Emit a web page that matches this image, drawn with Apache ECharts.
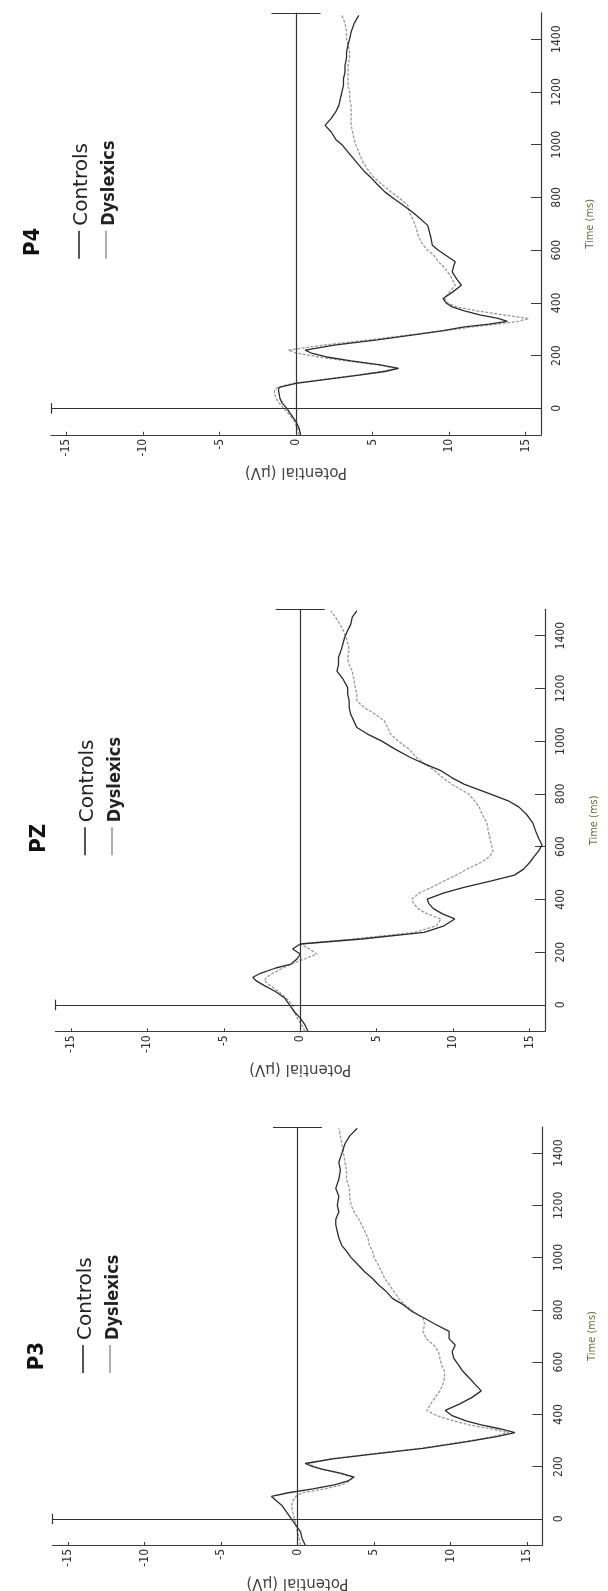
<!DOCTYPE html>
<html>
<head>
<meta charset="utf-8">
<script src="https://cdn.jsdelivr.net/npm/echarts@6/dist/echarts.min.js"></script>
<style>
html,body{margin:0;padding:0;background:#fff;}
#chart{width:608px;height:1591px;}
</style>
</head>
<body>
<div id="chart"></div>
<script>
// ---------- DATA ----------
const panelNames = ['P4', 'PZ', 'P3'];
const seriesNames = ['Controls', 'Dyslexics'];
const potentialTicks = [-15, -10, -5, 0, 5, 10, 15];
const timeTicks = [0, 200, 400, 600, 800, 1000, 1200, 1400];
const potentialRange = [-16, 16];
const timeRange = [-100, 1500];

// P3
const p3Time = [-100,-75,-50,-25,0,25,50,70,86,100,115,130,145,160,175,190,200,212,230,250,270,295,315,330,345,360,375,395,415,440,465,490,515,540,565,590,615,640,665,690,718,745,768,793,820,844,870,895,920,945,970,1000,1025,1046,1075,1100,1125,1147,1175,1200,1235,1265,1300,1335,1365,1400,1436,1465,1495];
const p3Controls = [0.5,0.3,0.2,-0.1,-0.4,-0.7,-1.0,-1.4,-1.7,-0.6,1.0,2.4,3.3,3.7,2.8,1.6,1.0,0.5,2.3,5.2,8.2,11.0,13.0,14.2,13.2,12.0,11.0,10.1,9.65,10.6,11.4,12.0,11.6,11.2,10.8,10.5,10.2,10.1,10.3,9.9,9.9,9.0,8.3,7.5,6.9,6.2,5.8,5.3,4.9,4.4,4.0,3.5,3.2,2.9,2.7,2.6,2.5,2.5,2.7,2.6,2.7,2.5,2.7,2.8,2.7,2.9,3.1,3.4,3.9];
const p3Dyslexics = [0.2,0.1,0.0,-0.1,-0.2,-0.3,-0.4,-0.3,-0.1,0.3,1.8,2.9,3.4,3.6,2.7,1.6,1.1,0.7,2.2,5.0,8.0,10.8,12.8,13.8,12.6,11.2,10.2,9.1,8.45,8.7,9.0,9.3,9.5,9.6,9.6,9.4,9.3,9.2,8.9,8.4,8.2,8.3,8.2,7.6,7.0,6.6,6.3,6.0,5.7,5.5,5.3,5.0,4.9,4.7,4.6,4.4,4.2,4.0,3.7,3.5,3.4,3.4,3.2,3.2,3.1,3.0,2.9,2.8,2.7];

// PZ
const pzTime = [-100,-75,-50,-25,0,25,50,75,92,105,120,140,155,175,193,212,231,250,275,300,326,345,365,385,401,425,446,470,492,515,540,563,585,607,630,658,690,722,750,774,800,837,862,888,912,938,970,1001,1027,1052,1077,1102,1127,1153,1178,1203,1235,1266,1290,1317,1350,1393,1420,1443,1470,1494];
const pzControls = [0.5,0.3,0.0,-0.4,-0.7,-1.0,-1.6,-2.4,-2.9,-3.1,-2.6,-1.6,-0.6,-0.2,0.0,-0.5,0.0,4.0,8.1,9.4,10.1,9.3,8.7,8.4,8.3,9.4,10.7,12.5,14.0,14.6,15.0,15.3,15.6,15.8,15.6,15.4,15.2,14.8,14.3,13.6,12.4,10.7,9.9,9.2,8.2,7.2,6.2,5.3,4.4,3.7,3.5,3.3,3.2,3.2,3.1,3.1,2.8,2.4,2.5,2.5,2.7,2.9,3.1,3.3,3.4,3.7];
const pzDyslexics = [0.3,0.1,-0.2,-0.4,-0.5,-0.9,-1.4,-2.0,-2.35,-2.2,-1.8,-1.1,-0.6,0.3,1.1,0.6,0.0,3.5,7.5,8.9,9.2,8.3,7.7,7.4,7.3,7.8,8.6,9.4,10.2,10.9,11.8,12.4,12.6,12.5,12.4,12.3,12.2,11.9,11.7,11.4,11.0,9.9,9.3,8.8,8.2,7.6,7.1,6.4,5.9,5.7,5.5,4.9,4.2,3.7,3.7,3.6,3.5,3.4,3.2,3.1,3.2,3.0,2.8,2.6,2.3,2.0];

// P4
const p4Time = [-100,-75,-50,-25,0,20,38,55,70,80,95,110,125,140,152,165,180,195,210,221,240,260,280,295,309,320,330,341,355,370,385,400,417,440,467,490,518,540,556,580,600,619,650,694,720,745,770,795,821,850,875,896,930,972,1000,1020,1048,1073,1100,1125,1149,1175,1200,1225,1250,1275,1300,1330,1351,1380,1400,1427,1460,1490];
const p4Controls = [0.3,0.2,0.0,-0.3,-0.6,-0.9,-1.05,-1.1,-1.15,-1.1,0.0,2.0,4.0,5.8,6.7,5.5,3.6,2.0,1.0,0.6,2.5,5.3,7.8,9.6,11.0,12.6,13.8,13.2,12.0,11.0,10.2,9.8,9.6,10.2,10.8,10.5,10.2,10.3,10.4,9.8,9.3,8.9,8.8,8.6,8.1,7.6,7.0,6.4,5.8,5.3,4.9,4.5,4.0,3.4,3.0,2.6,2.3,1.9,2.3,2.6,2.8,2.9,3.0,3.1,3.1,3.2,3.2,3.3,3.3,3.4,3.5,3.6,3.8,4.1];
const p4Dyslexics = [0.2,0.1,-0.1,-0.4,-0.8,-1.1,-1.3,-1.4,-1.4,-1.2,-0.2,1.8,3.8,5.6,6.6,5.4,3.3,1.5,0.0,-0.5,1.8,4.8,7.6,9.8,11.5,13.2,14.5,15.2,13.5,11.8,10.5,9.9,9.7,10.0,10.4,10.2,9.9,9.6,9.3,9.0,8.6,8.3,8.0,7.8,7.6,7.4,7.3,6.8,6.2,5.6,5.1,4.8,4.4,4.1,3.9,3.8,3.7,3.6,3.6,3.6,3.6,3.5,3.5,3.4,3.4,3.4,3.4,3.5,3.5,3.4,3.3,3.3,3.2,3.0];

const panels = [
  {name: 'P4', time: p4Time, controls: p4Controls, dyslexics: p4Dyslexics},
  {name: 'PZ', time: pzTime, controls: pzControls, dyslexics: pzDyslexics},
  {name: 'P3', time: p3Time, controls: p3Controls, dyslexics: p3Dyslexics}
];

// ---------- LAYOUT ----------
const gridBoxes = [
  {left: 51,   top: 12.8,  width: 490, height: 422},
  {left: 55.5, top: 609.3, width: 490, height: 422},
  {left: 52.5, top: 1127,  width: 490, height: 422}
];
const legendOrigins = [[26, 258.8], [32, 855.3], [30, 1373]];

const FONT_COND = "'DejaVu Sans Condensed', 'DejaVu Sans', sans-serif";
const AXIS_COLOR = '#3a3a3a';
const CONTROL_COLOR = '#2b2b2b';
const DYS_COLOR = '#9a9a9a';

const grids = [], xAxes = [], yAxes = [], series = [], graphics = [];

panels.forEach((p, i) => {
  grids.push(Object.assign({containLabel: false}, gridBoxes[i]));
  xAxes.push({
    type: 'value', gridIndex: i, min: potentialRange[0], max: potentialRange[1],
    position: 'bottom',
    name: 'Potential (\u03bcV)', nameLocation: 'middle', nameGap: 30, nameRotate: 180,
    nameTextStyle: {fontFamily: "'DejaVu Sans', sans-serif", fontSize: 15, color: '#444'},
    axisLine: {show: true, onZero: false, lineStyle: {color: AXIS_COLOR, width: 1}},
    axisTick: {show: true, inside: true, length: 3, customValues: potentialTicks, lineStyle: {color: AXIS_COLOR}},
    axisLabel: {show: true, rotate: 90, margin: 4, fontSize: 12, color: '#333', fontFamily: FONT_COND,
                customValues: potentialTicks, formatter: (v) => String(v)},
    splitLine: {show: false}
  });
  yAxes.push({
    type: 'value', gridIndex: i, min: timeRange[0], max: timeRange[1],
    position: 'right',
    name: 'Time (ms)', nameLocation: 'middle', nameGap: 44, nameRotate: 90,
    nameTextStyle: {fontFamily: FONT_COND, fontSize: 11, color: '#6b6b3a'},
    axisLine: {show: true, onZero: false, lineStyle: {color: AXIS_COLOR, width: 1.2}},
    axisTick: {show: true, inside: true, length: 10, customValues: timeTicks, lineStyle: {color: AXIS_COLOR}},
    axisLabel: {show: true, rotate: 90, margin: 10, fontSize: 12, color: '#333', fontFamily: FONT_COND,
                customValues: timeTicks, formatter: (v) => String(v)},
    splitLine: {show: false}
  });

  const toPairs = (vals) => vals.map((v, k) => [v, p.time[k]]);

  series.push({
    name: 'Controls', type: 'line', xAxisIndex: i, yAxisIndex: i,
    data: toPairs(p.controls), showSymbol: false, smooth: false,
    lineStyle: {color: CONTROL_COLOR, width: 1.3}, z: 4,
    markLine: {
      silent: true, symbol: 'none', label: {show: false},
      lineStyle: {color: '#333', width: 1.2, type: 'solid'},
      data: [
        [{coord: [potentialRange[0], 0]}, {coord: [potentialRange[1], 0]}],
        [{coord: [0, timeRange[0]]}, {coord: [0, timeRange[1]]}],
        [{coord: [-1.6, timeRange[1]]}, {coord: [1.6, timeRange[1]]}],
        [{coord: [potentialRange[0], -20]}, {coord: [potentialRange[0], 20]}]
      ]
    }
  });
  series.push({
    name: 'Dyslexics', type: 'line', xAxisIndex: i, yAxisIndex: i,
    data: toPairs(p.dyslexics), showSymbol: false, smooth: false,
    lineStyle: {color: DYS_COLOR, width: 1.3, type: [3, 1.5]}, z: 3
  });

  // title + legend, rotated to read bottom-to-top
  const o = legendOrigins[i];
  graphics.push({
    type: 'group', x: o[0], y: o[1], rotation: Math.PI / 2,
    children: [
      {type: 'text', x: 17, y: 7, style: {text: p.name, font: "bold 22px " + FONT_COND, fill: '#111', align: 'center', verticalAlign: 'middle'}},
      {type: 'line', shape: {x1: 0, y1: 53, x2: 28, y2: 53}, style: {stroke: CONTROL_COLOR, lineWidth: 1.6}},
      {type: 'text', x: 33, y: 56, style: {text: seriesNames[0], font: "20px 'DejaVu Sans', sans-serif", fill: '#222', align: 'left', verticalAlign: 'middle'}},
      {type: 'line', shape: {x1: 0, y1: 80, x2: 28, y2: 80}, style: {stroke: DYS_COLOR, lineWidth: 1.6}},
      {type: 'text', x: 33, y: 83, style: {text: seriesNames[1], font: "bold 18px " + FONT_COND, fill: '#222', align: 'left', verticalAlign: 'middle'}}
    ]
  });
});

const chart = echarts.init(document.getElementById('chart'), null, {renderer: 'canvas'});
chart.setOption({
  backgroundColor: '#ffffff',
  animation: false,
  grid: grids,
  xAxis: xAxes,
  yAxis: yAxes,
  series: series,
  graphic: graphics
});
</script>
</body>
</html>
